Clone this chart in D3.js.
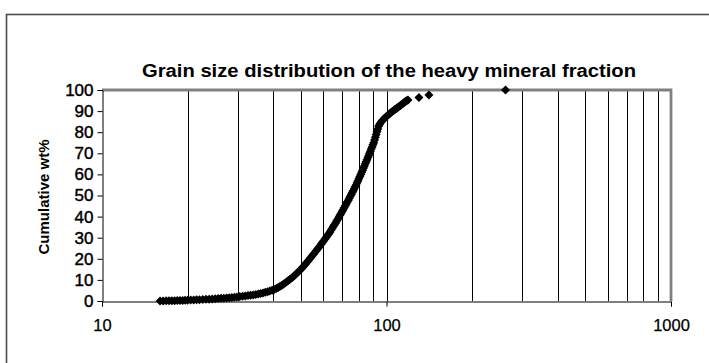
<!DOCTYPE html>
<html>
<head>
<meta charset="utf-8">
<script src="https://cdn.jsdelivr.net/npm/d3@7"></script>
<style>
  html, body { margin: 0; padding: 0; background: #fff; }
  svg { display: block; }
  text { font-family: "Liberation Sans", Arial, sans-serif; fill: #000; }
</style>
</head>
<body>
<svg id="chart" width="709" height="363"></svg>
<script>
// Grain size (µm) and cumulative weight percent of the heavy mineral fraction
const grainSize = [
  16.0, 16.4, 16.8, 17.2, 17.6, 18.0, 18.4, 18.8, 19.2, 19.6, 20.0,
  20.5, 21.0, 21.5, 22.0, 22.6, 23.2, 23.8, 24.4, 25.0, 25.6, 26.2, 26.8, 27.4, 28.0, 28.6, 29.2, 29.8,
  30.5, 31.2, 31.9, 32.6, 33.3, 34.0, 34.7, 35.4, 36.1, 36.8, 37.5, 38.2, 38.9, 39.6,
  40.3, 41.0, 41.6, 42.2, 42.8, 43.4, 44.0, 44.6, 45.2, 45.8, 46.4, 47.0, 47.6, 48.2, 48.8, 49.4, 50.0,
  50.6, 51.2, 51.8, 52.4, 53.0, 53.6, 54.2, 54.8, 55.4, 56.0, 56.6, 57.2, 57.8, 58.4, 59.0, 59.6,
  60.2, 60.8, 61.4, 62.0, 62.6, 63.2, 63.8, 64.4, 65.0, 65.6, 66.2, 66.8, 67.4, 68.0, 68.6, 69.2, 69.8,
  70.4, 71.0, 71.6, 72.2, 72.8, 73.4, 74.0, 74.6, 75.2, 75.8, 76.4, 77.0, 77.6, 78.2, 78.8, 79.4, 80.0,
  80.6, 81.2, 81.8, 82.4, 83.0, 83.6, 84.2, 84.8, 85.4, 86.0, 86.6, 87.2, 87.8, 88.4, 89.0, 89.6,
  90.2, 90.8, 91.4, 92.0, 92.6, 93.2, 93.8, 94.6, 95.5, 96.4, 97.3, 98.2, 99.1, 100.0,
  101.0, 102.0, 103.0, 104.0, 105.0, 106.0, 107.0, 108.0, 109.0, 110.0,
  111.0, 112.0, 113.0, 114.0, 115.0, 116.0, 117.0, 118.0, 119.0,
  130.0, 141.0, 262.0
];
const cumulativeWt = [
  0.0, 0.03, 0.06, 0.09, 0.12, 0.16, 0.2, 0.24, 0.28, 0.33, 0.38,
  0.44, 0.5, 0.56, 0.62, 0.7, 0.78, 0.86, 0.95, 1.05, 1.15, 1.25, 1.35, 1.47, 1.58, 1.7, 1.82, 1.95,
  2.1, 2.25, 2.4, 2.55, 2.7, 2.9, 3.1, 3.3, 3.55, 3.8, 4.1, 4.4, 4.75, 5.1,
  5.5, 5.95, 6.4, 6.9, 7.4, 7.95, 8.5, 9.1, 9.7, 10.3, 10.9, 11.5, 12.2, 12.9, 13.6, 14.3, 15.0,
  15.8, 16.6, 17.4, 18.2, 19.0, 19.8, 20.6, 21.4, 22.2, 23.0, 23.8, 24.6, 25.4, 26.2, 27.0, 27.8,
  28.6, 29.4, 30.2, 31.0, 31.8, 32.6, 33.5, 34.4, 35.3, 36.1, 37.0, 37.9, 38.8, 39.7, 40.6, 41.5, 42.4,
  43.3, 44.2, 45.1, 46.0, 46.9, 47.8, 48.7, 49.6, 50.5, 51.4, 52.3, 53.2, 54.1, 55.0, 56.0, 57.0, 58.0,
  59.0, 60.0, 61.0, 62.0, 63.0, 64.0, 65.0, 66.0, 67.0, 68.0, 69.0, 70.0, 71.0, 72.0, 73.0, 74.0,
  75.0, 76.3, 77.6, 78.9, 80.2, 81.5, 82.8, 83.8, 84.6, 85.3, 85.9, 86.5, 87.0, 87.5,
  88.0, 88.5, 89.0, 89.5, 89.9, 90.3, 90.7, 91.1, 91.5, 91.9,
  92.3, 92.7, 93.1, 93.5, 93.9, 94.3, 94.7, 95.0, 95.3,
  96.4, 97.6, 100.0
];

const yTickValues = [0, 10, 20, 30, 40, 50, 60, 70, 80, 90, 100];
const xTickValues = [10, 100, 1000];
const chartTitle = "Grain size distribution of the heavy mineral fraction";
const yAxisTitle = "Cumulative wt%";

const points = grainSize.map((s, i) => ({ size: s, wt: cumulativeWt[i] }));

const svg = d3.select("#chart");

const x = d3.scaleLog().domain([10, 1000]).range([102, 671]);
const y = d3.scaleLinear().domain([0, 100]).range([301, 90]);

// Outer chart frame
svg.append("rect")
  .attr("x", 6.5).attr("y", 14.5)
  .attr("width", 740).attr("height", 400)
  .attr("fill", "none")
  .attr("stroke", "#4a4a4a")
  .attr("stroke-width", 1.6);

// Title, drawn slightly wide
svg.append("text")
  .attr("x", 389).attr("y", 77)
  .attr("text-anchor", "middle")
  .attr("font-size", 18)
  .attr("font-weight", "bold")
  .attr("textLength", 494)
  .attr("lengthAdjust", "spacingAndGlyphs")
  .text(chartTitle);

// Vertical grid lines at every minor log tick between the axis ends
const gridSizes = x.ticks().filter(v => v > 10 && v < 1000);
svg.append("g")
  .selectAll("line")
  .data(gridSizes)
  .join("line")
  .attr("x1", d => Math.round(x(d)) + 0.5)
  .attr("x2", d => Math.round(x(d)) + 0.5)
  .attr("y1", y(100))
  .attr("y2", y(0))
  .attr("stroke", "#000")
  .attr("stroke-width", 1);

// Plot area border (top and right) in grey
svg.append("path")
  .attr("d", `M${x(10)},${y(100)}H${x(1000)}V${y(0)}`)
  .attr("fill", "none")
  .attr("stroke", "#808080")
  .attr("stroke-width", 2.8);

// Y axis
const yAxis = d3.axisLeft(y)
  .tickValues(yTickValues)
  .tickSize(5)
  .tickPadding(4)
  .tickFormat(d3.format("d"));
const gy = svg.append("g")
  .attr("transform", `translate(${x(10) + 0.5},0)`)
  .call(yAxis);
gy.select(".domain").attr("stroke", "#000");
gy.selectAll("text")
  .attr("font-size", 17)
  .attr("font-family", "'Liberation Sans', Arial, sans-serif")
  .attr("fill", "#000")
  .attr("stroke", "#000")
  .attr("stroke-width", 0.45);

// X axis
const xAxis = d3.axisBottom(x)
  .tickValues(xTickValues)
  .tickSize(5)
  .tickPadding(13)
  .tickFormat(d3.format("d"));
const gx = svg.append("g")
  .attr("transform", `translate(0,${y(0) + 0.5})`)
  .call(xAxis);
gx.select(".domain").attr("stroke", "#000");
gx.selectAll("text")
  .attr("font-size", 16.5)
  .attr("font-family", "'Liberation Sans', Arial, sans-serif")
  .attr("fill", "#000")
  .attr("stroke", "#000")
  .attr("stroke-width", 0.25);

// Y axis title
svg.append("text")
  .attr("transform", "translate(49,197) rotate(-90)")
  .attr("text-anchor", "middle")
  .attr("font-size", 15)
  .attr("font-weight", "bold")
  .text(yAxisTitle);

// Diamond markers
const r = 4.5;
svg.append("g")
  .selectAll("path")
  .data(points)
  .join("path")
  .attr("transform", d => `translate(${x(d.size)},${y(d.wt)})`)
  .attr("d", `M0,${-r}L${r},0L0,${r}L${-r},0Z`)
  .attr("fill", "#000");
</script>
</body>
</html>
